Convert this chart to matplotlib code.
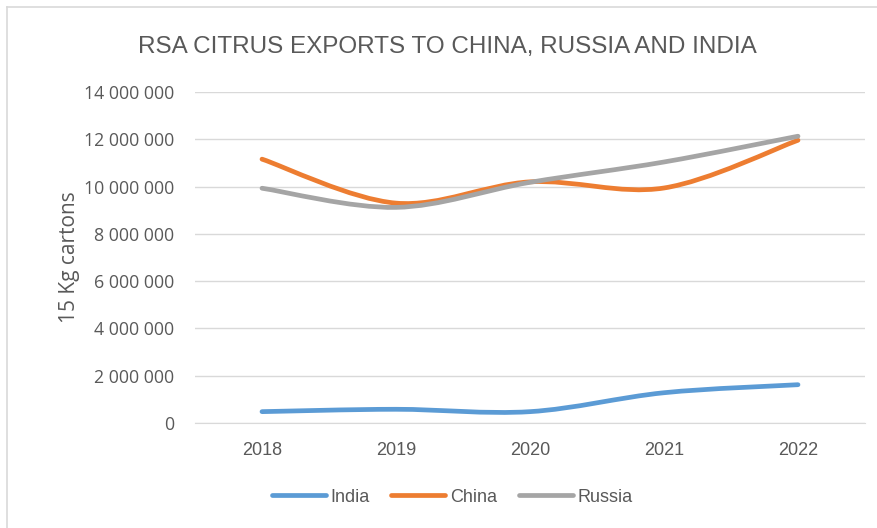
import matplotlib
matplotlib.use('Agg')
from matplotlib import pyplot as plt
from matplotlib.path import Path
from matplotlib.patches import PathPatch
from matplotlib.lines import Line2D
from matplotlib.ticker import FuncFormatter

years = ['2018', '2019', '2020', '2021', '2022']
india = [480000, 580000, 480000, 1280000, 1620000]
china = [11160000, 9300000, 10200000, 9940000, 11960000]
russia = [9930000, 9120000, 10180000, 11040000, 12130000]

colors = {'India': '#5B9BD5', 'China': '#ED7D31', 'Russia': '#A5A5A5'}
label_font = ['Liberation Sans', 'DejaVu Sans']


def smooth_path(ys):
	# Excel style smoothed line: cubic bezier between points, catmull-rom control points
	xs = list(range(len(ys)))
	pts = list(zip(xs, ys))
	verts = [pts[0]]
	codes = [Path.MOVETO]
	n = len(pts)
	for i in range(n - 1):
		p0 = pts[max(i - 1, 0)]
		p1 = pts[i]
		p2 = pts[i + 1]
		p3 = pts[min(i + 2, n - 1)]
		c1 = (p1[0] + (p2[0] - p0[0]) / 6.0, p1[1] + (p2[1] - p0[1]) / 6.0)
		c2 = (p2[0] - (p3[0] - p1[0]) / 6.0, p2[1] - (p3[1] - p1[1]) / 6.0)
		verts += [c1, c2, p2]
		codes += [Path.CURVE4] * 3
	return Path(verts, codes)


fig = plt.figure(figsize=(8.77, 5.28), dpi=100)
ax = fig.add_axes([195 / 877, 105 / 528, 670 / 877, 331 / 528])

for name, vals in [('India', india), ('China', china), ('Russia', russia)]:
	patch = PathPatch(smooth_path(vals), facecolor='none', edgecolor=colors[name],
		lw=3.4, capstyle='round', zorder=3)
	ax.add_patch(patch)

ax.set_xlim(-0.5, 4.5)
ax.set_ylim(0, 14000000)
ax.set_yticks(range(0, 14000001, 2000000))
ax.yaxis.set_major_formatter(FuncFormatter(lambda v, p: '{:,.0f}'.format(v).replace(',', ' ')))
ax.set_xticks(range(len(years)))
ax.set_xticklabels(years, family=label_font, fontsize=13, color='#595959')
for t in ax.get_yticklabels():
	t.set_family('Open Sans')
	t.set_fontsize(12.8)
	t.set_color('#595959')
ax.tick_params(length=0)
ax.tick_params(axis='x', pad=14)
ax.tick_params(axis='y', pad=15)
ax.grid(axis='y', color='#D9D9D9', lw=1)
ax.set_axisbelow(True)
for s in ['top', 'right', 'left']:
	ax.spines[s].set_visible(False)
ax.spines['bottom'].set_color('#D9D9D9')

ax.set_ylabel('15 Kg cartons', family='Open Sans', fontsize=15, color='#595959', labelpad=3)

fig.text(447 / 877, 1 - 47 / 528, 'RSA CITRUS EXPORTS TO CHINA, RUSSIA AND INDIA',
	family=label_font, fontsize=17.5, color='#595959', ha='center', va='center')

handles = [Line2D([], [], color=colors[k], lw=3.4, solid_capstyle='round') for k in ['India', 'China', 'Russia']]
leg = fig.legend(handles, ['India', 'China', 'Russia'], loc='center', bbox_to_anchor=(452 / 877, 1 - 497 / 528),
	ncol=3, frameon=False, handlelength=3.0, handletextpad=0.25, columnspacing=1.2,
	prop={'family': label_font, 'size': 13})
for t in leg.get_texts():
	t.set_color('#595959')

# chart area border (top and left visible, rest cropped)
fig.add_artist(Line2D([7 / 877, 7 / 877], [0, 1 - 7 / 528], transform=fig.transFigure, color='#D9D9D9', lw=1.2))
fig.add_artist(Line2D([7 / 877, 1], [1 - 7 / 528, 1 - 7 / 528], transform=fig.transFigure, color='#D9D9D9', lw=1.2))

fig.savefig('out.png', dpi=100)
